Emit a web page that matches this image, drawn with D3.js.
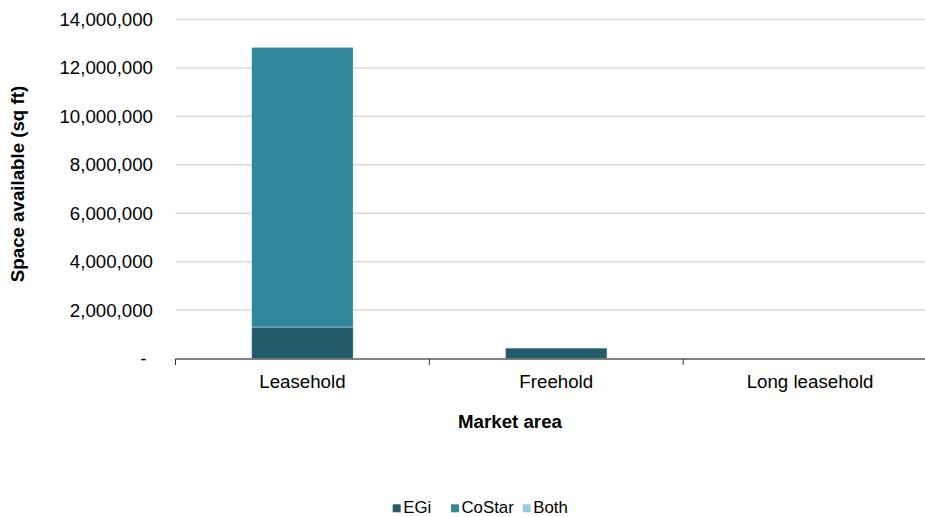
<!DOCTYPE html>
<html><head><meta charset="utf-8">
<script src="https://cdn.jsdelivr.net/npm/d3@7"></script>
<style>body{margin:0;background:#fff}text{font-family:Arial,"Liberation Sans",sans-serif}</style>
</head><body><svg id="c" width="925" height="517"></svg>
<script>
const categories = ["Leasehold", "Freehold", "Long leasehold"];
const seriesNames = ["EGi", "CoStar", "Both"];
const egi = [1300000, 430000, 0];
const costar = [11550000, 0, 0];
const both = [0, 0, 0];
const yTicks = [0, 2000000, 4000000, 6000000, 8000000, 10000000, 12000000, 14000000];
const colors = ["#235b6a", "#31879c", "#93cddd"];

const svg = d3.select("#c");
const x = d3.scaleBand().domain(categories).range([175.5, 937]).paddingInner(0.6).paddingOuter(0.3);
const y = d3.scaleLinear().domain([0, 14000000]).range([358.5, 19.5]);

// gridlines
svg.append("g").selectAll("line").data(yTicks.filter(d => d > 0)).join("line")
  .attr("x1", 175.5).attr("x2", 925).attr("y1", d => y(d)).attr("y2", d => y(d))
  .attr("stroke", "#d9d9d9").attr("stroke-width", 1.5);

// y labels
svg.append("g").selectAll("text").data(yTicks).join("text")
  .attr("x", d => d === 0 ? 146.5 : 153).attr("y", d => y(d)).attr("dy", "0.35em").attr("text-anchor", "end")
  .attr("font-size", 18.7).attr("fill", "#000")
  .text(d => d === 0 ? "-" : d3.format(",")(d));

// stacks
const rows = categories.map((c, i) => ({cat: c, EGi: egi[i], CoStar: costar[i], Both: both[i]}));
const stack = d3.stack().keys(seriesNames)(rows);
svg.append("g").selectAll("g").data(stack).join("g").attr("fill", (d, i) => colors[i])
  .selectAll("rect").data(d => d.filter(p => p[1] - p[0] > 0)).join("rect")
  .attr("x", d => x(d.data.cat)).attr("width", x.bandwidth())
  .attr("y", d => y(d[1])).attr("height", d => y(d[0]) - y(d[1]))
  .attr("stroke", "#ffffff").attr("stroke-opacity", 0.5).attr("stroke-width", 0.8);

// x axis line
svg.append("line").attr("x1", 175.5).attr("x2", 925).attr("y1", 359).attr("y2", 359)
  .attr("stroke", "#595959").attr("stroke-width", 1.5);
// ticks
const bounds = [175.5, x.step() + 175.5, 2 * x.step() + 175.5];
svg.append("g").selectAll("line").data(bounds).join("line")
  .attr("x1", d => d).attr("x2", d => d).attr("y1", 359).attr("y2", 365)
  .attr("stroke", "#333").attr("stroke-width", 1);
// x labels
svg.append("g").selectAll("text").data(categories).join("text")
  .attr("x", d => x(d) + x.bandwidth() / 2).attr("y", 388.3).attr("text-anchor", "middle")
  .attr("font-size", 18.7).text(d => d);

// axis titles
svg.append("text").attr("x", 510).attr("y", 428.3).attr("text-anchor", "middle")
  .attr("font-size", 18.7).attr("font-weight", "bold").text("Market area");
svg.append("text").attr("transform", "translate(23.5,184) rotate(-90)").attr("text-anchor", "middle")
  .attr("font-size", 18.7).attr("font-weight", "bold").text("Space available (sq ft)");

// legend
const legX = [392.7, 451, 522.7];
const lg = svg.append("g").selectAll("g").data(seriesNames).join("g")
  .attr("transform", (d, i) => `translate(${legX[i]},504.3)`);
lg.append("rect").attr("width", 8).attr("height", 8).attr("fill", (d, i) => colors[i]);
lg.append("text").attr("x", 10.5).attr("y", 9).attr("font-size", 16.8).text(d => d);
</script></body></html>
